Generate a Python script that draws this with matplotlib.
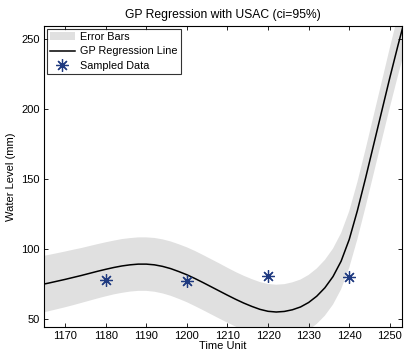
import matplotlib
matplotlib.use("Agg")
import matplotlib.pyplot as plt
import numpy as np

plt.rcParams['font.family'] = ['Liberation Sans', 'DejaVu Sans']

# Sampled data
sample_x = [1180, 1200, 1220, 1240]
sample_y = [77.4, 77.2, 80.7, 79.5]

# GP regression mean
curve_x = [1164, 1166, 1168, 1170, 1172, 1174, 1176, 1178, 1180, 1182, 1184, 1186,
           1188, 1190, 1192, 1194, 1196, 1198, 1200, 1202, 1204, 1206, 1208, 1210,
           1212, 1214, 1216, 1218, 1220, 1222, 1224, 1226, 1228, 1230, 1232, 1234,
           1236, 1238, 1240, 1242, 1244, 1246, 1248, 1250, 1252, 1254]
curve_y = [74.2, 75.4, 76.7, 78.0, 79.4, 80.8, 82.3, 83.8, 85.2, 86.5, 87.6, 88.4,
           88.9, 88.9, 88.4, 87.3, 85.7, 83.6, 81.3, 78.6, 75.7, 72.7, 69.7, 66.7,
           63.8, 61.1, 58.7, 56.6, 55.2, 54.7, 55.1, 56.3, 58.3, 61.5, 66.0, 72.0,
           80.0, 91.0, 106.5, 127.0, 150.0, 174.0, 198.0, 222.0, 245.0, 267.0]

# Half width of the 95% band
band_half = [20.2, 20.1, 20.0, 19.9, 19.8, 19.6, 19.5, 19.4, 19.3, 19.2, 19.2, 19.1,
             19.1, 19.1, 19.2, 19.3, 19.4, 19.5, 19.6, 19.7, 19.7, 19.7, 19.7, 19.6,
             19.5, 19.5, 19.5, 19.5, 19.5, 19.5, 19.5, 19.6, 19.6, 19.7, 19.8, 19.9,
             20.0, 20.1, 20.2, 20.4, 20.6, 20.8, 21.0, 21.3, 21.6, 22.0]

xticks = [1170, 1180, 1190, 1200, 1210, 1220, 1230, 1240, 1250]
yticks = [50, 100, 150, 200, 250]

cx = np.array(curve_x, dtype=float)
cy = np.array(curve_y, dtype=float)
hw = np.array(band_half, dtype=float)

fig = plt.figure(figsize=(4.04, 3.54), dpi=100)
ax = fig.add_axes([0.109, 0.0763, 0.886, 0.8503])

ax.fill_between(cx, cy - hw, cy + hw, color='#e0e0e0', linewidth=0, label='Error Bars')
ax.plot(cx, cy, color='black', linewidth=1.1, label='GP Regression Line')
ax.plot(sample_x, sample_y, linestyle='none', marker=(8, 2, 0), markersize=9,
        markeredgewidth=0.9, color='#1f3a80', label='Sampled Data')

ax.set_xlim(1164.8, 1253)
ax.set_ylim(44, 259)
ax.set_xticks(xticks)
ax.set_yticks(yticks)
ax.tick_params(direction='in', top=True, right=True, length=3, width=0.6,
               labelsize=8, pad=3, colors='black')
for s in ax.spines.values():
    s.set_linewidth(0.8)

ax.set_title('GP Regression with USAC (ci=95%)', fontsize=8.7, pad=6)
ax.set_xlabel('Time Unit', fontsize=8, labelpad=0)
ax.set_ylabel('Water Level (mm)', fontsize=8, labelpad=4)

leg = ax.legend(loc='upper left', fontsize=7.8, frameon=True, fancybox=False,
                edgecolor='black', borderaxespad=0.25, handlelength=2.3,
                handletextpad=0.45, borderpad=0.3, labelspacing=0.42)
leg.get_frame().set_linewidth(0.8)

fig.savefig('out.png', dpi=100)
